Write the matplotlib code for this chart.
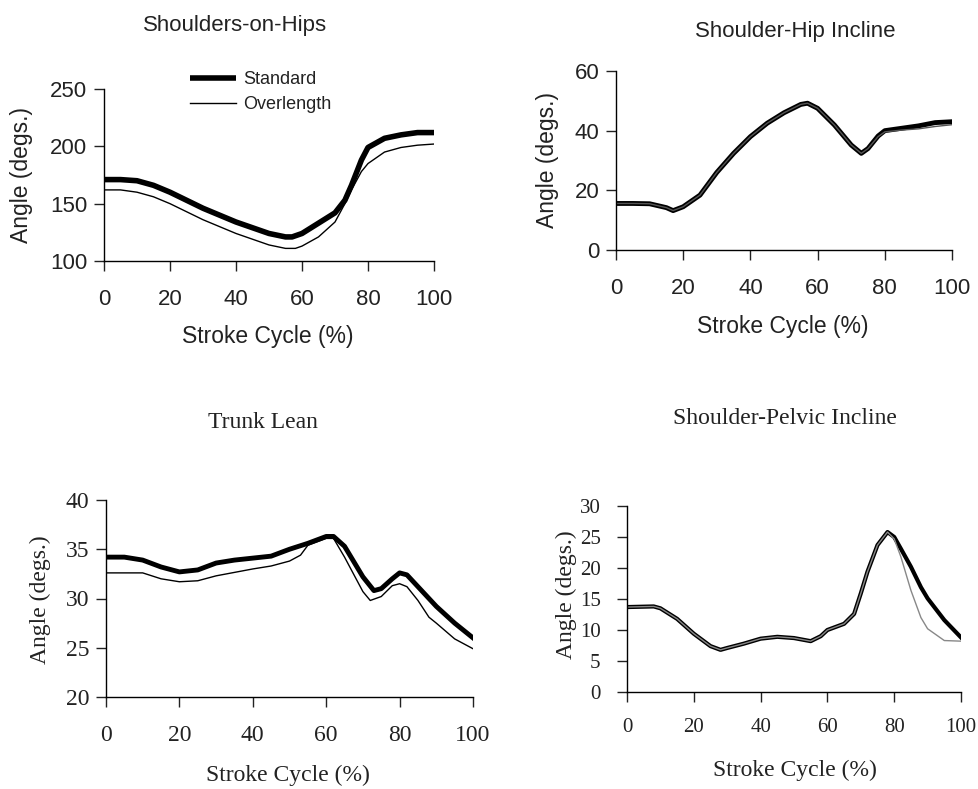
import matplotlib
matplotlib.use("Agg")
import matplotlib.pyplot as plt
import numpy as np

W, H = 979, 789

# ---------------- data ----------------
# Shoulders-on-Hips
soh_x_std = [0, 5, 10, 15, 20, 25, 30, 35, 40, 45, 50, 55, 57, 60, 65, 70, 73, 75, 78, 80, 85, 90, 95, 100]
soh_std = [171, 171, 170, 166, 160, 153, 146, 140, 134, 129, 124, 121, 121, 124, 133, 142, 153, 166, 188, 199, 207, 210, 212, 212]
soh_x_ovl = [0, 5, 10, 15, 20, 25, 30, 35, 40, 45, 50, 55, 58, 60, 65, 70, 73, 75, 78, 80, 85, 90, 95, 100]
soh_ovl = [162, 162, 160, 156, 150, 143, 136, 130, 124, 119, 114, 111, 111, 113, 121, 134, 150, 162, 178, 185, 195, 199, 201, 202]

# Shoulder-Hip Incline
shi_x = [0, 5, 10, 15, 17, 20, 25, 30, 35, 40, 45, 50, 55, 57, 60, 65, 70, 73, 75, 78, 80, 85, 90, 95, 100]
shi_std = [15.6, 15.6, 15.5, 14.2, 13.2, 14.5, 18.4, 26.0, 32.4, 38.0, 42.5, 46.0, 48.8, 49.2, 47.5, 41.9, 35.2, 32.4, 34.0, 38.2, 40.0, 40.8, 41.6, 42.7, 43.0]
shi_ovl = [15.6, 15.6, 15.5, 14.2, 13.2, 14.5, 18.4, 26.0, 32.4, 38.0, 42.5, 46.0, 48.8, 49.2, 47.5, 41.9, 35.2, 32.4, 34.0, 38.0, 39.6, 40.2, 40.6, 41.4, 42.0]

# Trunk Lean
tl_x_std = [0, 5, 10, 15, 20, 25, 30, 35, 40, 45, 50, 55, 60, 62, 65, 70, 73, 75, 78, 80, 82, 85, 90, 95, 100]
tl_std = [34.2, 34.2, 33.9, 33.2, 32.7, 32.9, 33.6, 33.9, 34.1, 34.3, 35.0, 35.6, 36.3, 36.3, 35.3, 32.2, 30.8, 31.0, 32.0, 32.6, 32.4, 31.2, 29.2, 27.5, 26.0]
tl_x_ovl = [0, 10, 15, 20, 25, 30, 40, 45, 50, 53, 55, 60, 62, 65, 70, 72, 75, 78, 80, 82, 85, 88, 90, 95, 100]
tl_ovl = [32.6, 32.6, 32.0, 31.7, 31.8, 32.3, 33.0, 33.3, 33.8, 34.4, 35.4, 36.1, 36.1, 34.2, 30.7, 29.8, 30.2, 31.3, 31.5, 31.2, 29.8, 28.1, 27.5, 25.9, 24.9]

# Shoulder-Pelvic Incline
spi_x = [0, 8, 10, 15, 20, 25, 28, 30, 35, 40, 45, 50, 55, 58, 60, 65, 68, 70, 72, 75, 78, 80, 82, 85, 88, 90, 95, 100]
spi_std = [13.7, 13.8, 13.5, 11.8, 9.4, 7.4, 6.8, 7.1, 7.8, 8.6, 8.9, 8.7, 8.2, 9.0, 10.0, 11.0, 12.6, 15.9, 19.4, 23.7, 25.8, 25.0, 23.1, 20.2, 16.9, 15.1, 11.6, 8.8]
spi_ovl = [13.7, 13.8, 13.5, 11.8, 9.4, 7.4, 6.8, 7.1, 7.8, 8.6, 8.9, 8.7, 8.2, 9.0, 10.0, 11.0, 12.6, 15.9, 19.4, 23.7, 25.8, 24.7, 21.8, 16.4, 12.0, 10.2, 8.3, 8.2]

x_ticks = [0, 20, 40, 60, 80, 100]

SANS = "Liberation Sans"
SERIF = "Liberation Serif"
TXT = "#222222"

fig = plt.figure(figsize=(W / 100, H / 100), dpi=100)


def add_axes(left, top, right, bottom):
    return fig.add_axes([left / W, 1 - bottom / H, (right - left) / W, (bottom - top) / H])


def style(ax, ylim, yticks, family, fs, xpad=14, ypad=6):
    ax.set_xlim(0, 100)
    ax.set_ylim(*ylim)
    ax.set_xticks(x_ticks)
    ax.set_yticks(yticks)
    for s in ("top", "right"):
        ax.spines[s].set_visible(False)
    for s in ("left", "bottom"):
        ax.spines[s].set_linewidth(1.0)
    ax.tick_params(direction="out", length=7, width=1.0, labelsize=fs, colors=TXT)
    ax.tick_params(axis="x", pad=xpad)
    ax.tick_params(axis="y", pad=ypad)
    for lab in ax.get_xticklabels() + ax.get_yticklabels():
        lab.set_family(family)
    ax.patch.set_alpha(0)


# Panel 1
ax1 = add_axes(104, 89, 434, 261)
l1, = ax1.plot(soh_x_std, soh_std, color="black", lw=4.0, solid_capstyle="butt", label="Standard")
l2, = ax1.plot(soh_x_ovl, soh_ovl, color="black", lw=1.0, label="Overlength")
style(ax1, (100, 250), [100, 150, 200, 250], SANS, 16, xpad=13, ypad=5)
leg = ax1.legend(handles=[l1, l2], loc="upper left", bbox_to_anchor=(0.21, 1.20), frameon=False,
                 prop={"family": SANS, "size": 13}, handlelength=2.6, handletextpad=0.35, labelspacing=0.45)
for t in leg.get_texts():
    t.set_color(TXT)

# Panel 2
ax2 = add_axes(616, 71, 952, 250)
ax2.plot(shi_x, shi_std, color="black", lw=3.5)
ax2.plot(shi_x, shi_ovl, color="#555555", lw=1.0)
style(ax2, (0, 60), [0, 20, 40, 60], SANS, 16, xpad=13, ypad=5)

# Panel 3
ax3 = add_axes(106, 500, 473, 697)
ax3.plot(tl_x_std, tl_std, color="black", lw=3.5)
ax3.plot(tl_x_ovl, tl_ovl, color="black", lw=1.0)
style(ax3, (20, 40), [20, 25, 30, 35, 40], SERIF, 17, xpad=13, ypad=5)

# Panel 4
ax4 = add_axes(627, 506, 961, 692)
ax4.plot(spi_x, spi_std, color="black", lw=3.0)
ax4.plot(spi_x, spi_ovl, color="#888888", lw=1.0)
style(ax4, (0, 30), [0, 5, 10, 15, 20, 25, 30], SERIF, 15, xpad=12, ypad=12)


def ftext(x, y, s, family, size, rot=0):
    fig.text(x / W, 1 - y / H, s, ha="center", va="center", family=family, fontsize=size,
             rotation=rot, color=TXT)


# Titles
ftext(235, 25, "Shoulders-on-Hips", SANS, 16)
ftext(795, 31, "Shoulder-Hip Incline", SANS, 16)
ftext(263, 422, "Trunk Lean", SERIF, 17)
ftext(785, 418, "Shoulder-Pelvic Incline", SERIF, 17)

# x labels
ftext(268, 337, "Stroke Cycle (%)", SANS, 16.5)
ftext(783, 327, "Stroke Cycle (%)", SANS, 16.5)
ftext(288, 775, "Stroke Cycle (%)", SERIF, 17)
ftext(795, 770, "Stroke Cycle (%)", SERIF, 17)

# y labels
ftext(22, 175, "Angle (degs.)", SANS, 16.5, 90)
ftext(548, 160, "Angle (degs.)", SANS, 16.5, 90)
ftext(40, 600, "Angle (degs.)", SERIF, 17, 90)
ftext(566, 595, "Angle (degs.)", SERIF, 17, 90)

fig.savefig("out.png", dpi=100)
